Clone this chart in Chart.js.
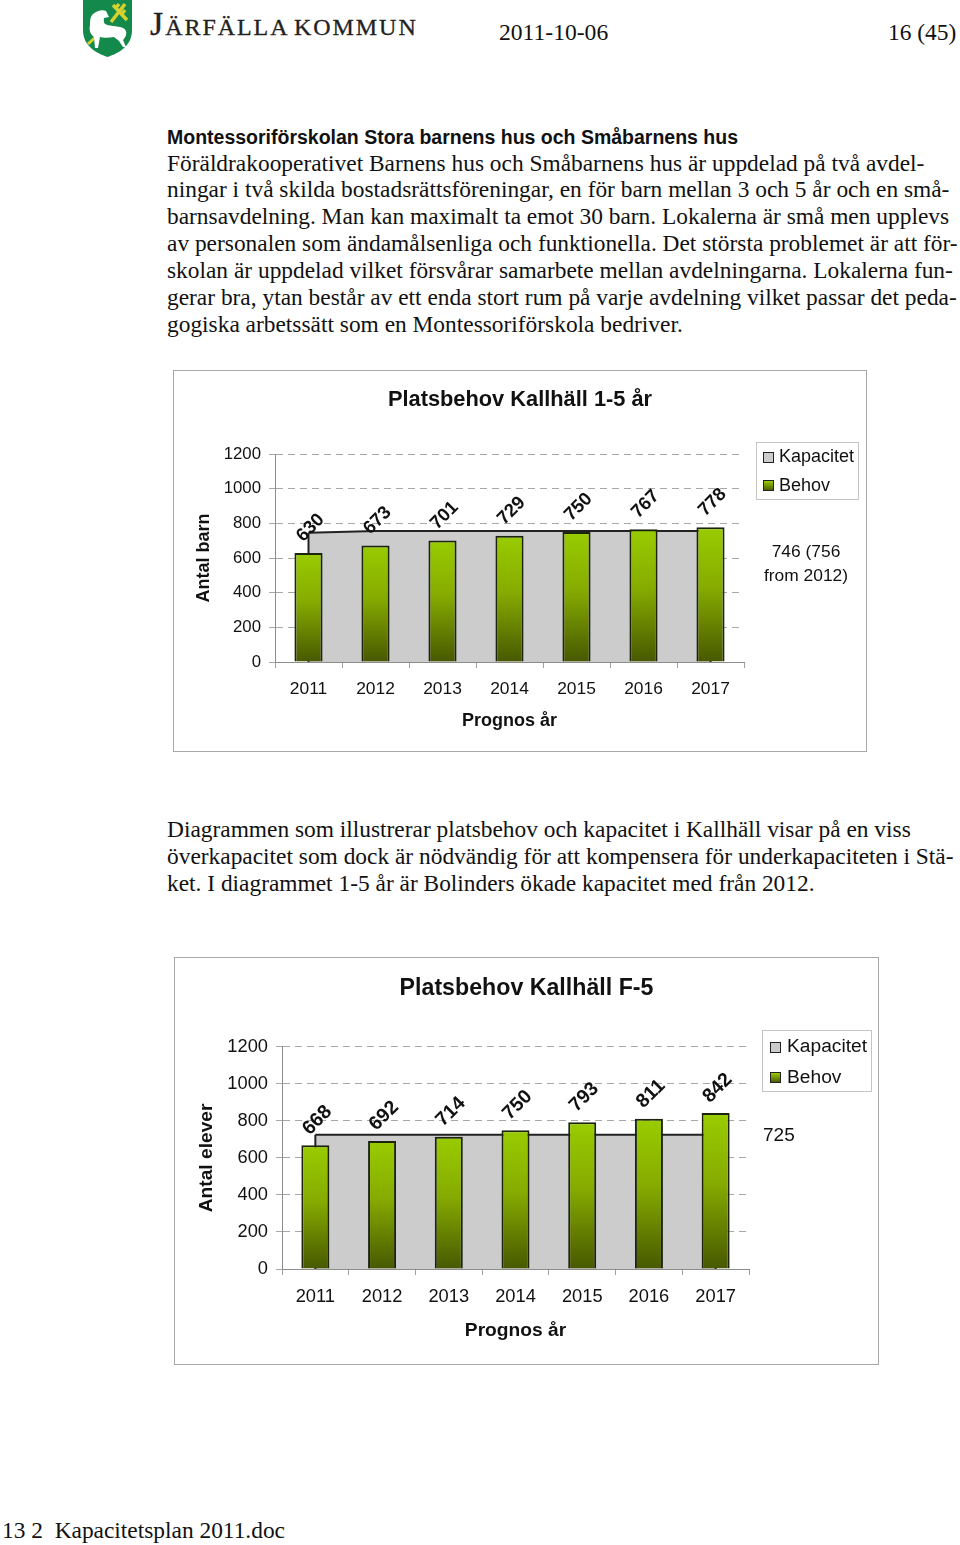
<!DOCTYPE html>
<html lang="sv">
<head>
<meta charset="UTF-8">
<title>Kapacitetsplan 2011</title>
<style>
  * { margin: 0; padding: 0; box-sizing: border-box; }
  body { width: 960px; height: 1545px; background: #fff; position: relative; overflow: hidden; color: #111; font-family: "Liberation Serif", serif; }
  .abs { position: absolute; white-space: nowrap; }
  .para { font-size: 23.4px; line-height: 26.85px; left: 167px; }
  .frame { position: absolute; border: 1px solid #a8a8a8; background: #fff; }
  canvas { position: absolute; display: block; }
  .sans { font-family: "Liberation Sans", sans-serif; }
  .legend { position: absolute; border: 1px solid #c4c4c4; background: #fff; font-family: "Liberation Sans", sans-serif; }
  .swatch { position: absolute; width: 11px; height: 11px; border: 1px solid #222; }
  .swatch.grey { background: #ccc; }
  .swatch.green { background: linear-gradient(#99cc00, #4d5e00); }
  .logo { left: 150px; top: 5px; font-size: 34px; letter-spacing: 1.95px; word-spacing: -6px; font-variant: small-caps; color: #222; -webkit-text-stroke: 0.3px #222; }
</style>
</head>
<body>

<svg class="abs" style="left:83px;top:0" width="50" height="58" viewBox="0 0 50 58">
  <path d="M0 0H49V30C49 46 36 53 24.500 57C13 53 0 46 0 30Z" fill="#14894c"/>
  <path d="M28 22L42 4M30 5L44 20M36 4L32 9M42 10L38 15" stroke="#d5d230" stroke-width="3.500" fill="none"/>
  <path d="M5 44L17 33" stroke="#d5d230" stroke-width="3"/>
  <path d="M9 15C13 11 19 9 23 11L26 17L21 18C20 24 22 25 30 26C38 27 41 27 43 31C44 35 42 38 40 40L43 47H40L36 41L31 37C26 38 20 38 17 37L15 48H12L11 37C7 34 6 30 7 25C7 21 7 18 9 15Z" fill="#fff"/>
</svg>
<div class="abs logo">Järfälla kommun</div>
<div class="abs" style="left:499px;top:19px;font-size:23.6px">2011-10-06</div>
<div class="abs" style="left:888px;top:19px;font-size:23.4px">16 (45)</div>

<div class="abs sans" style="left:167px;top:126px;font-size:19.5px;font-weight:bold">Montessoriförskolan Stora barnens hus och Småbarnens hus</div>
<div class="abs para" style="top:149.500px">Föräldrakooperativet Barnens hus och Småbarnens hus är uppdelad på två avdel-<br>ningar i två skilda bostadsrättsföreningar, en för barn mellan 3 och 5 år och en små-<br>barnsavdelning. Man kan maximalt ta emot 30 barn. Lokalerna är små men upplevs<br>av personalen som ändamålsenliga och funktionella. Det största problemet är att för-<br>skolan är uppdelad vilket försvårar samarbete mellan avdelningarna. Lokalerna fun-<br>gerar bra, ytan består av ett enda stort rum på varje avdelning vilket passar det peda-<br>gogiska arbetssätt som en Montessoriförskola bedriver.</div>

<div class="frame" style="left:173px;top:370px;width:694px;height:382px"></div>
<canvas id="chart1" width="692" height="380" style="left:174px;top:371px"></canvas>
<div class="legend" style="left:756px;top:442px;width:103px;height:58px">
  <span class="swatch grey" style="left:6px;top:9px"></span><span class="abs" style="left:22px;top:3px;font-size:18px">Kapacitet</span>
  <span class="swatch green" style="left:6px;top:37px"></span><span class="abs" style="left:22px;top:32px;font-size:18px">Behov</span>
</div>
<div class="abs sans" style="left:745px;width:122px;top:540px;font-size:17.4px;line-height:23.5px;text-align:center">746 (756<br>from 2012)</div>

<div class="abs para" style="top:816px">Diagrammen som illustrerar platsbehov och kapacitet i Kallhäll visar på en viss<br>överkapacitet som dock är nödvändig för att kompensera för underkapaciteten i Stä-<br>ket. I diagrammet 1-5 år är Bolinders ökade kapacitet med från 2012.</div>

<div class="frame" style="left:174px;top:957px;width:705px;height:408px"></div>
<canvas id="chart2" width="703" height="406" style="left:175px;top:958px"></canvas>
<div class="legend" style="left:762px;top:1030px;width:110px;height:62px">
  <span class="swatch grey" style="left:7px;top:11px"></span><span class="abs" style="left:24px;top:4px;font-size:19.2px">Kapacitet</span>
  <span class="swatch green" style="left:7px;top:41px"></span><span class="abs" style="left:24px;top:35px;font-size:19.2px">Behov</span>
</div>
<div class="abs sans" style="left:763px;top:1124px;font-size:19px">725</div>

<div class="abs" style="left:2px;top:1517px;font-size:23.4px;white-space:pre">13 2  Kapacitetsplan 2011.doc</div>

<script src="https://cdn.jsdelivr.net/npm/chart.js@4"></script>
<script>
  const years = ["2011", "2012", "2013", "2014", "2015", "2016", "2017"];
  const kapacitet1 = [746, 756, 756, 756, 756, 756, 756];
  const behov1 = [630, 673, 701, 729, 750, 767, 778];
  const kapacitet2 = [725, 725, 725, 725, 725, 725, 725];
  const behov2 = [668, 692, 714, 750, 793, 811, 842];

  // Rotated value labels above the bars, Chart.js has no built in ones
  const valueLabels = {
    id: "valueLabels",
    afterDatasetsDraw(chart, args, opts) {
      const ctx = chart.ctx;
      const meta = chart.getDatasetMeta(1);
      ctx.save();
      ctx.font = "bold " + opts.size + "px 'Liberation Sans'";
      ctx.fillStyle = "#111";
      ctx.textAlign = "center";
      ctx.textBaseline = "middle";
      meta.data.forEach((bar, i) => {
        ctx.save();
        ctx.translate(bar.x + 2, bar.y - 25);
        ctx.rotate(-Math.PI / 4);
        ctx.fillText(chart.data.datasets[1].data[i], 0, 0);
        ctx.restore();
      });
      ctx.restore();
    }
  };

  // Closes the grey area with the vertical edges at both ends
  const areaEdges = {
    id: "areaEdges",
    afterDatasetDraw(chart, args) {
      if (args.index !== 0) return;
      const ctx = chart.ctx;
      const pts = args.meta.data;
      const base = chart.scales.y.getPixelForValue(0);
      ctx.save();
      ctx.strokeStyle = "#222";
      ctx.lineWidth = 2;
      [pts[0], pts[pts.length - 1]].forEach(p => {
        ctx.beginPath();
        ctx.moveTo(p.x, p.y);
        ctx.lineTo(p.x, base);
        ctx.stroke();
      });
      ctx.restore();
    }
  };

  const barGradient = (context) => {
    const chart = context.chart;
    if (!chart.chartArea || context.raw === undefined) return "#99cc00";
    const y = chart.scales.y;
    const g = chart.ctx.createLinearGradient(0, y.getPixelForValue(context.raw), 0, y.getPixelForValue(0));
    g.addColorStop(0, "#99cc00");
    g.addColorStop(0.45, "#86ab00");
    g.addColorStop(1, "#475800");
    return g;
  };

  function makeChart(id, kapacitet, behov, cfg) {
    return new Chart(document.getElementById(id), {
      data: {
        labels: years,
        datasets: [
          { type: "line", label: "Kapacitet", data: kapacitet, order: 2, fill: "origin", backgroundColor: "#cccccc", borderColor: "#222", borderWidth: 2, pointRadius: 0, tension: 0 },
          { type: "bar", label: "Behov", data: behov, order: 1, backgroundColor: barGradient, borderColor: "#1c2410", borderWidth: 2, barPercentage: 0.42, categoryPercentage: 1 }
        ]
      },
      plugins: [areaEdges, valueLabels],
      options: {
        responsive: false,
        animation: false,
        plugins: {
          legend: { display: false },
          tooltip: { enabled: false },
          valueLabels: { size: cfg.labelSize },
          title: {
            display: true,
            text: cfg.title,
            color: "#111",
            font: { family: "'Liberation Sans'", size: cfg.titleSize, weight: "bold" },
            padding: { top: cfg.titleTop, bottom: cfg.titleBottom }
          }
        },
        scales: {
          x: {
            offset: true,
            afterFit: s => { s.height = cfg.xHeight; },
            grid: { drawOnChartArea: false, drawTicks: true, tickLength: 6, color: "#a0a0a0", offset: true },
            border: { color: "#8c8c8c", width: 1 },
            ticks: { color: "#111", font: { family: "'Liberation Sans'", size: cfg.xTickSize }, padding: cfg.xPad, maxRotation: 0 },
            title: { display: true, text: "Prognos år", color: "#111", font: { family: "'Liberation Sans'", size: cfg.axisSize, weight: "bold" }, padding: { top: 0, bottom: cfg.xTitleBottom } }
          },
          y: {
            min: 0,
            max: 1200,
            afterFit: s => { s.width = cfg.yWidth; },
            grid: { color: "#a8a8a8", tickLength: 6, tickBorderDash: [] },
            border: { color: "#8c8c8c", width: 1, dash: [7, 5] },
            ticks: { stepSize: 200, color: "#111", font: { family: "'Liberation Sans'", size: cfg.yTickSize }, padding: 8, callback: v => String(v) },
            title: { display: true, text: cfg.yTitle, color: "#111", font: { family: "'Liberation Sans'", size: cfg.axisSize, weight: "bold" }, padding: { top: cfg.yTitleTop, bottom: 0 } }
          },
          // empty axis, keeps the room for the legend so the title stays centred on the whole frame
          side: {
            position: "right",
            min: 0,
            max: 1,
            afterFit: s => { s.width = cfg.right; },
            grid: { display: false },
            border: { display: false },
            ticks: { display: false }
          }
        }
      }
    });
  }

  makeChart("chart1", kapacitet1, behov1, {
    title: "Platsbehov Kallhäll 1-5 år", yTitle: "Antal barn",
    right: 122, yWidth: 101, xHeight: 89, titleTop: 16, titleBottom: 41,
    titleSize: 21.8, xTickSize: 17.4, yTickSize: 16.8, axisSize: 18, labelSize: 18.5, xPad: 11, xTitleBottom: 19.5, yTitleTop: 19
  });

  makeChart("chart2", kapacitet2, behov2, {
    title: "Platsbehov Kallhäll F-5", yTitle: "Antal elever",
    right: 129, yWidth: 107, xHeight: 95, titleTop: 17, titleBottom: 44,
    titleSize: 23.2, xTickSize: 18.3, yTickSize: 18.3, axisSize: 19.2, labelSize: 19.5, xPad: 11, xTitleBottom: 22, yTitleTop: 20
  });
</script>
</body>
</html>
